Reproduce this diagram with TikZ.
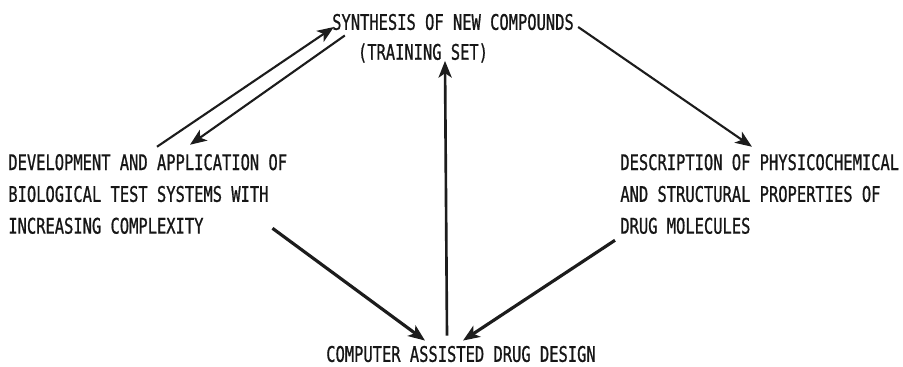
\documentclass[tikz,border=0pt]{standalone}
\usepackage{fontspec}
\usepackage{tikz}
\usetikzlibrary{positioning,arrows.meta,calc}
\newfontfamily\plotfont{DejaVu Sans Mono}[FakeStretch=0.72,FakeBold=0.8]
\definecolor{colorwhite}{RGB}{255,255,255}
\definecolor{colortext} {RGB}{ 22, 22, 22}
\definecolor{colorline} {RGB}{ 28, 28, 28}

\begin{document}
\begin{tikzpicture}[
    x=0.02cm, y=-0.02cm,
    >={Stealth[length=9.5pt,width=7.5pt,inset=2.5pt]},
    title/.style={text=colortext,font={\plotfont\fontsize{12.2}{18.1}\selectfont},inner sep=0pt},
    block/.style={title,align=left},
    thin link/.style={colorline,line width=1.2pt},
    link/.style={colorline,line width=1.5pt},
    thick link/.style={colorline,line width=1.8pt},
]

    % Frame
    \fill[colorwhite] (0,0) rectangle (903,366);
    \useasboundingbox (0,0) rectangle (903,366);

    % Synthesis
    \node[title] at (453,22) (synth) {SYNTHESIS OF NEW COMPOUNDS};
    \node[title] at (423,53) (train) {(TRAINING SET)};

    % Biological tests
    \node[block,anchor=west] at (8,194) (tests) {DEVELOPMENT AND APPLICATION OF\\
    BIOLOGICAL TEST SYSTEMS WITH\\
    INCREASING COMPLEXITY};

    % Physicochemical description
    \node[block,anchor=west] at (620,194) (descr) {DESCRIPTION OF PHYSICOCHEMICAL\\
    AND STRUCTURAL PROPERTIES OF\\
    DRUG MOLECULES};

    % Drug design
    \node[title] at (461,354) (cadd) {COMPUTER ASSISTED DRUG DESIGN};

    % Arrows
    \draw[->,thin link] ($(tests.north west)+(149,-7)$) to ($(synth.west)+(2,5)$); % tests to synthesis
    \draw[->,thin link] ($(synth.south west)+(13,5)$) to ($(tests.north west)+(182,-9)$); % synthesis to tests
    \draw[->,thin link] ($(synth.east)+(4,5)$) to ($(descr.north west)+(132,-7)$); % synthesis to description
    \draw[->,thick link] ($(tests.south east)+(-15,-6)$) to ($(cadd.north)+(-36,-5)$); % tests to design
    \draw[->,thick link] ($(descr.south west)+(-5,6)$) to ($(cadd.north)+(2,-5)$); % description to design
    \draw[->,link] ($(cadd.north)+(-14,-10)$) to ($(train.south)+(22,-2)$); % design to training set

\end{tikzpicture}
\end{document}
